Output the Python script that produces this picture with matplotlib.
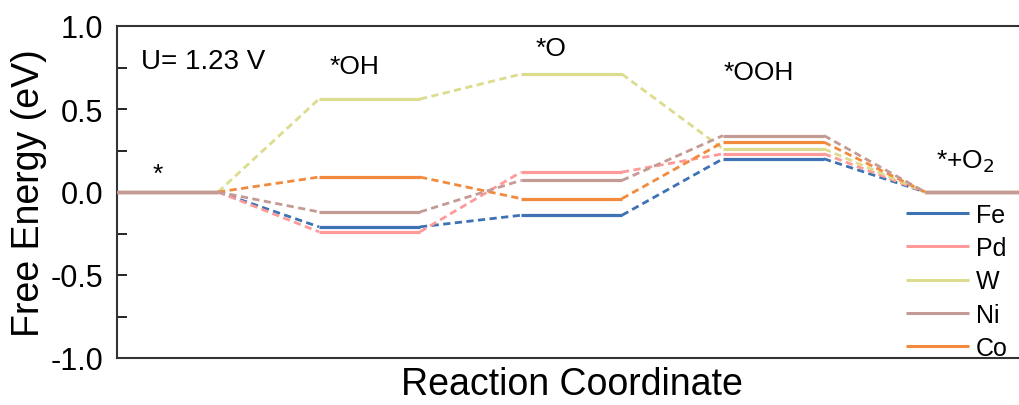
import matplotlib
matplotlib.use("Agg")
import matplotlib.pyplot as plt
from matplotlib.ticker import MultipleLocator

plt.rcParams['font.family'] = ['Liberation Sans', 'DejaVu Sans']

# Reaction intermediates along the pathway
steps = ['*', '*OH', '*O', '*OOH', '*+O$_2$']

# Free energy of each intermediate (eV) at U = 1.23 V
metals = ['Fe', 'Pd', 'W', 'Ni', 'Co']
fe = [0.0, -0.21, -0.14, 0.20, 0.0]
pd_ = [0.0, -0.24, 0.12, 0.23, 0.0]
w = [0.0, 0.56, 0.71, 0.26, 0.0]
ni = [0.0, -0.12, 0.07, 0.34, 0.0]
co = [0.0, 0.09, -0.04, 0.30, 0.0]

energies = {'Fe': fe, 'Pd': pd_, 'W': w, 'Ni': ni, 'Co': co}
colors = {'Fe': '#3d72b4', 'Pd': '#ff9a9a', 'W': '#dcdc8e',
          'Ni': '#c49b94', 'Co': '#f28a3e'}
draw_order = ['Fe', 'Pd', 'W', 'Co', 'Ni']

fig = plt.figure(figsize=(10.20, 4.06), dpi=100)
ax = fig.add_axes([117 / 1020, 47 / 406, 909 / 1020, 332 / 406])

level_w = 1.0
pitch = 2.0
handles = {}
for m in draw_order:
    vals = energies[m]
    c = colors[m]
    for i, v in enumerate(vals):
        x0 = i * pitch
        ln, = ax.plot([x0, x0 + level_w], [v, v], color=c, lw=2.3,
                      solid_capstyle='butt', zorder=3)
        if i == 0:
            handles[m] = ln
        if i < len(vals) - 1:
            ax.plot([x0 + level_w, (i + 1) * pitch], [v, vals[i + 1]],
                    color=c, lw=2.0, dashes=(2.6, 1.6), zorder=2)

ax.set_xlim(0, 9)
ax.set_ylim(-1.0, 1.0)
ax.set_xticks([])
ax.yaxis.set_major_locator(MultipleLocator(0.5))
ax.yaxis.set_minor_locator(MultipleLocator(0.25))
ax.tick_params(axis='y', which='both', direction='in', length=7, width=1.2,
               labelsize=22, pad=10)
ax.set_yticks([-1.0, -0.5, 0.0, 0.5, 1.0])
ax.set_yticklabels(['-1.0', '-0.5', '0.0', '0.5', '1.0'])
for s in ax.spines.values():
    s.set_linewidth(1.5)
    s.set_color('#333333')

ax.set_ylabel('Free Energy (eV)', fontsize=27)
ax.yaxis.set_label_coords(-0.077, 0.5)
ax.set_xlabel('Reaction Coordinate', fontsize=27, labelpad=6)

# Step labels
label_pos = [(0.4, 0.11), (2.35, 0.76), (4.3, 0.87), (6.35, 0.72), (8.4, 0.19)]
for (x, y), s in zip(label_pos, steps):
    ax.text(x, y, s, fontsize=19, ha='center', va='center')
ax.text(0.24, 0.79, 'U= 1.23 V', fontsize=20, ha='left', va='center')

leg = ax.legend([handles[m] for m in metals], metals, loc='upper left',
                bbox_to_anchor=(0.857, 0.497), frameon=False, fontsize=18,
                handlelength=2.5, handletextpad=0.28, labelspacing=0.37,
                borderaxespad=0)
for l in leg.get_lines():
    l.set_linewidth(2.2)

fig.savefig('out.png', dpi=100)
